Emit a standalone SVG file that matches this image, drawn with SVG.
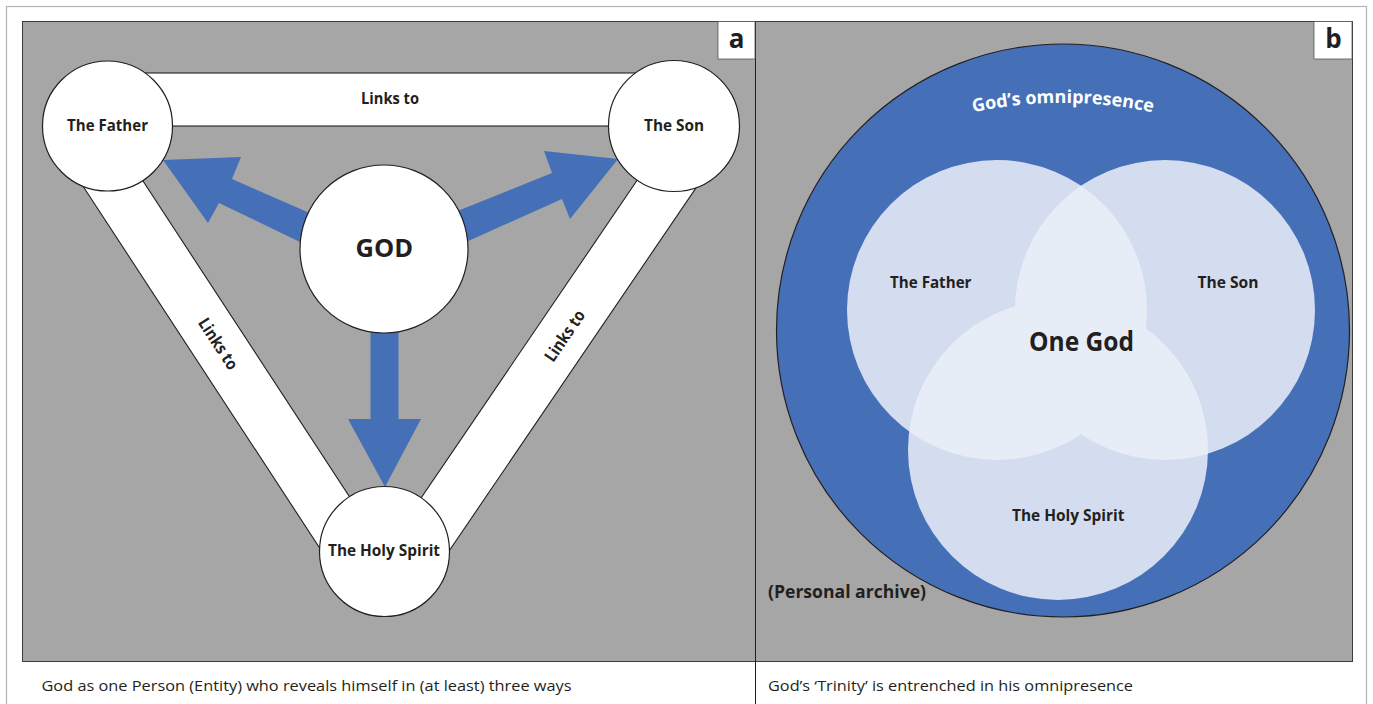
<svg xmlns="http://www.w3.org/2000/svg" width="1373" height="704" viewBox="0 0 1373 704">
<style>
text{font-family:"Open Sans","Liberation Sans",sans-serif;fill:#231f20;}
.b{font-weight:700;}
.lbl{font-size:16.8px;font-weight:700;}
.cap{font-size:15px;font-weight:400;}
.node{fill:#ffffff;stroke:#231f20;stroke-width:1.2;}
.bar{fill:#ffffff;stroke:#231f20;stroke-width:1.1;}
.arrow{fill:#4570b8;}
.venn{fill:#d4ddef;}
.ov{fill:#e7edf7;}
.panel{fill:#a6a6a6;stroke:#3c3c3c;stroke-width:1;}
</style>
<defs>
<clipPath id="cS"><circle cx="1165" cy="310" r="150"/></clipPath>
<clipPath id="cH"><circle cx="1058" cy="450" r="150"/></clipPath>
<path id="arc" d="M 950 118 A 430 430 0 0 1 1176 118"/>
</defs>
<rect x="0" y="0" width="1373" height="704" fill="#ffffff"/>
<rect x="6.5" y="6.5" width="1360" height="720" fill="none" stroke="#b4b4b4" stroke-width="1.2"/>
<rect class="panel" x="22.5" y="21.5" width="733" height="640"/>
<rect class="panel" x="755.5" y="21.5" width="597" height="640"/>
<line x1="755.5" y1="21" x2="755.5" y2="704" stroke="#231f20" stroke-width="1"/>

<g id="label-a">
<rect x="718" y="21.5" width="37" height="37.5" fill="#ffffff" stroke="#555" stroke-width="0.8"/>
<text class="b" x="736.5" y="48" font-size="26" text-anchor="middle">a</text>
</g>
<g id="label-b">
<rect x="1314" y="21.5" width="38" height="37.5" fill="#ffffff" stroke="#555" stroke-width="0.8"/>
<text class="b" x="1333.5" y="48" font-size="26" text-anchor="middle">b</text>
</g>

<g id="connectors">
<g id="link-father-son">
<rect class="bar" x="107" y="73" width="567" height="53"/>
<text class="lbl" x="361" y="104" textLength="58" lengthAdjust="spacingAndGlyphs">Links to</text>
</g>
<g id="link-father-spirit">
<polygon class="bar" points="107,126 385,551 340.6,580 62.6,155"/>
<text class="lbl" transform="translate(218,344) rotate(56.8)" x="-29" y="5.5" textLength="58" lengthAdjust="spacingAndGlyphs">Links to</text>
</g>
<g id="link-son-spirit">
<polygon class="bar" points="674,126 385,551 428.8,580.8 717.8,155.8"/>
<text class="lbl" transform="translate(565,336) rotate(-55.8)" x="-29" y="5.5" textLength="58" lengthAdjust="spacingAndGlyphs">Links to</text>
</g>
<polygon id="arrow-god-father" class="arrow" points="163,160 241,157 232,179 312,214 300,242 219,203 208,223"/>
<polygon id="arrow-god-son" class="arrow" points="618,159 544,151 552,173 455,212 466,242 562,199 570,219"/>
<polygon id="arrow-god-spirit" class="arrow" points="370.5,320 398.5,320 398.5,419 421,419 385,487 348,419 370.5,419"/>
</g>

<g id="node-father">
<circle class="node" cx="107.5" cy="126" r="65"/>
<text class="lbl" x="67" y="130.5" textLength="81" lengthAdjust="spacingAndGlyphs">The Father</text>
</g>
<g id="node-son">
<circle class="node" cx="674" cy="126" r="65.5"/>
<text class="lbl" x="644" y="130.5" textLength="60" lengthAdjust="spacingAndGlyphs">The Son</text>
</g>
<g id="node-god">
<circle class="node" cx="384" cy="249" r="84"/>
<text class="b" x="355.5" y="257" font-size="25.5" textLength="57.5" lengthAdjust="spacingAndGlyphs">GOD</text>
</g>
<g id="node-spirit">
<circle class="node" cx="384.5" cy="551.5" r="65"/>
<text class="lbl" x="328" y="556" textLength="112" lengthAdjust="spacingAndGlyphs">The Holy Spirit</text>
</g>

<g id="node-omnipresence">
<circle cx="1063" cy="330.5" r="286.5" fill="#4570b8" stroke="#231f20" stroke-width="1.2"/>
<text class="b" font-size="18" style="fill:#ffffff"><textPath href="#arc" startOffset="50%" text-anchor="middle">God’s omnipresence</textPath></text>
</g>
<g id="node-venn-father">
<circle class="venn" cx="997" cy="310" r="150"/>
</g>
<g id="node-venn-son">
<circle class="venn" cx="1165" cy="310" r="150"/>
</g>
<g id="node-venn-spirit">
<circle class="venn" cx="1058" cy="450" r="150"/>
</g>
<g id="overlaps">
<circle class="ov" cx="997" cy="310" r="150" clip-path="url(#cS)"/>
<circle class="ov" cx="997" cy="310" r="150" clip-path="url(#cH)"/>
<circle class="ov" cx="1165" cy="310" r="150" clip-path="url(#cH)"/>
</g>
<g id="venn-labels">
<text class="lbl" x="890" y="288" textLength="81.5" lengthAdjust="spacingAndGlyphs">The Father</text>
<text class="lbl" x="1197.5" y="288" textLength="61" lengthAdjust="spacingAndGlyphs">The Son</text>
<text class="b" x="1029" y="350.5" font-size="26" textLength="105" lengthAdjust="spacingAndGlyphs">One God</text>
<text class="lbl" x="1012" y="521" textLength="112.5" lengthAdjust="spacingAndGlyphs">The Holy Spirit</text>
</g>
<text class="b" x="768" y="598" font-size="17.5" textLength="158" lengthAdjust="spacingAndGlyphs">(Personal archive)</text>

<g id="captions">
<text class="cap" x="41.5" y="690.5" textLength="530" lengthAdjust="spacingAndGlyphs">God as one Person (Entity) who reveals himself in (at least) three ways</text>
<text class="cap" x="768" y="690.5" textLength="365" lengthAdjust="spacingAndGlyphs">God’s ‘Trinity’ is entrenched in his omnipresence</text>
</g>
</svg>
